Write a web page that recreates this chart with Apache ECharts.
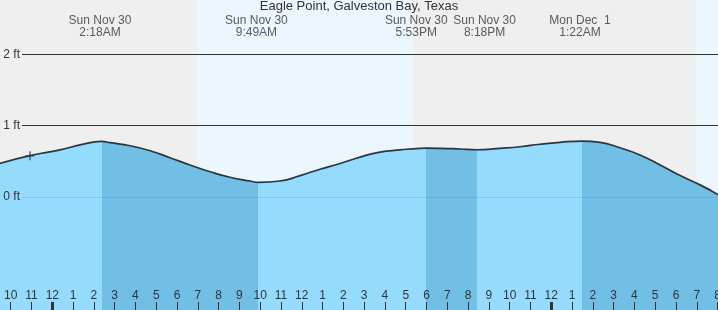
<!DOCTYPE html>
<html><head><meta charset="utf-8">
<script src="https://cdn.jsdelivr.net/npm/echarts@6/dist/echarts.min.js"></script>
<style>html,body{margin:0;padding:0;background:#efefef}#c{width:718px;height:310px}</style>
</head><body><div id="c"></div>
<script>
// ---- data (hours from midnight, Sun Nov 30; heights in ft) ----
const titleText = 'Eagle Point, Galveston Bay, Texas';
const curveHours = [-2.62, -1.16, 0.28, 1.24, 2.69, 3.65, 4.61, 5.57, 6.53, 7.49, 8.45, 9.41, 10.86, 11.82, 12.78, 13.74, 14.70, 15.66, 16.62, 17.58, 18.54, 19.51, 21.43, 22.39, 23.35, 24.31, 26.23, 27.19, 28.15, 29.12, 30.08, 31.04, 31.92];
const curveFt    = [0.47, 0.58, 0.66, 0.73, 0.762, 0.719, 0.649, 0.551, 0.449, 0.355, 0.277, 0.224, 0.224, 0.30, 0.39, 0.47, 0.56, 0.63, 0.66, 0.683, 0.683, 0.673, 0.683, 0.705, 0.74, 0.767, 0.767, 0.69, 0.59, 0.45, 0.30, 0.17, 0.03];
const eventHours = [2.3, 9.817, 17.883, 20.3, 25.367];
const eventFt    = [0.78, 0.206, 0.685, 0.663, 0.785];
const eventKind  = ['H', 'L', 'H', 'L', 'H'];
const eventDay   = ['Sun Nov 30', 'Sun Nov 30', 'Sun Nov 30', 'Sun Nov 30', 'Mon Dec  1'];
const eventClock = ['2:18AM', '9:49AM', '5:53PM', '8:18PM', '1:22AM'];
const sunrise = [6.87, 30.85];
const sunset  = [17.25, 33];
const nowHour = -1.16, nowFt = 0.58;
const ftTicks = [0, 1, 2];

// ---- build ----
const curve = curveHours.map((h, i) => [h, curveFt[i]])
  .concat(eventHours.map((h, i) => [h, eventFt[i]]))
  .sort((a, b) => a[0] - b[0]);

const darkPieces = [];
eventKind.forEach((k, i) => {
  if (k === 'H') darkPieces.push({ gte: eventHours[i], lt: (i + 1 < eventHours.length ? eventHours[i + 1] : 40), color: '#72bfe6' });
});

const labelOffsets = [[-2, 0], [-2, 0], [-10, 0], [8, 0], [-2, 0]];
const FONT = 'Liberation Sans, Arial, sans-serif';
const TXT = '#333';

const vTop = -16.9, vHeight = 356.5; // grids share vertical mapping, ft -2..3
const gBase = { outerBoundsMode: 'none', containLabel: false };
const SMOOTH = 0.5;

const chart = echarts.init(document.getElementById('c'), null, { renderer: 'canvas' });
chart.setOption({
  animation: false,
  backgroundColor: '#efefef',
  title: { text: titleText, left: 'center', top: 0, padding: 0,
    textStyle: { fontSize: 13, fontWeight: 'normal', color: TXT, fontFamily: FONT } },
  grid: [
    Object.assign({ left: -8.33, width: 749.2, top: vTop, height: vHeight }, gBase),   // 0 data
    Object.assign({ left: 22, width: 696, top: vTop, height: vHeight }, gBase),        // 1 ft gridlines
    Object.assign({ left: -10.07, width: 748.44, top: 0, height: 310 }, gBase),        // 2 hour ticks
    Object.assign({ left: 52.3, width: 499, top: 0, height: 310 }, gBase)              // 3 midnight ticks
  ],
  xAxis: [
    { gridIndex: 0, type: 'value', min: -3, max: 33, show: false },
    { gridIndex: 1, type: 'value', min: 0, max: 1, show: false },
    { gridIndex: 2, type: 'value', min: -3, max: 33, interval: 1, position: 'bottom', z: 10,
      axisLine: { show: false }, splitLine: { show: false },
      axisTick: { inside: true, length: 8, lineStyle: { color: TXT, width: 1 } },
      axisLabel: { inside: true, margin: 8, fontSize: 12, color: TXT, fontFamily: FONT,
        hideOverlap: false,
        formatter: v => { const m = ((v % 12) + 12) % 12; return String(m === 0 ? 12 : m); } } },
    { gridIndex: 3, type: 'value', min: 0, max: 24, interval: 24, position: 'bottom', z: 11,
      axisLine: { show: false }, splitLine: { show: false }, axisLabel: { show: false },
      axisTick: { inside: true, length: 8, lineStyle: { color: TXT, width: 3 } } }
  ],
  yAxis: [
    { gridIndex: 0, type: 'value', min: -2, max: 3, show: false },
    { gridIndex: 1, type: 'value', min: -2, max: 3, interval: 1, z: 10,
      axisLine: { show: false }, axisTick: { show: false }, splitLine: { show: false },
      axisLabel: { margin: 2, fontSize: 12, color: TXT, fontFamily: FONT,
        formatter: v => ftTicks.indexOf(v) >= 0 ? v + ' ft' : '' } },
    { gridIndex: 2, type: 'value', min: 0, max: 1, show: false },
    { gridIndex: 3, type: 'value', min: 0, max: 1, show: false }
  ],
  visualMap: [{
    type: 'piecewise', show: false, dimension: 0, seriesIndex: 0,
    pieces: darkPieces, outOfRange: { color: '#95dbfd' }
  }],
  series: [
    { // water fill
      type: 'line', xAxisIndex: 0, yAxisIndex: 0, data: curve, smooth: SMOOTH,
      symbol: 'none', z: 2, lineStyle: { width: 0, opacity: 0 },
      areaStyle: { opacity: 1, origin: 'start' },
      markArea: { silent: true, itemStyle: { color: '#ebf6fe' },
        data: sunrise.map((s, i) => [{ xAxis: s }, { xAxis: sunset[i] }]) }
    },
    { // curve stroke
      type: 'line', xAxisIndex: 0, yAxisIndex: 0, data: curve, smooth: SMOOTH,
      symbol: 'none', z: 4, lineStyle: { color: '#333', width: 1.7 }
    },
    { // ft gridlines
      type: 'line', xAxisIndex: 1, yAxisIndex: 1, data: [], z: 5,
      markLine: { silent: true, symbol: 'none', label: { show: false },
        data: ftTicks.map(v => ({ yAxis: v,
          lineStyle: v === 0 ? { color: 'rgba(0,70,140,0.12)', width: 1, type: 'solid' }
                             : { color: '#333', width: 1, type: 'solid' } })) }
    },
    { // current time marker
      type: 'scatter', xAxisIndex: 0, yAxisIndex: 0, z: 6,
      data: [[nowHour, nowFt]], symbolSize: 9,
      symbol: 'path://M0,4 L9,4 L9,5.4 L0,5.4 Z M3.8,0 L5.2,0 L5.2,9 L3.8,9 Z',
      itemStyle: { color: '#333' }
    },
    { // event labels
      type: 'scatter', xAxisIndex: 0, yAxisIndex: 0, z: 6, symbolSize: 0,
      data: eventHours.map((h, i) => ({ value: [h, 2.385],
        label: { offset: labelOffsets[i] } })),
      label: { show: true, position: 'inside', align: 'center', verticalAlign: 'middle',
        fontSize: 12, lineHeight: 12, color: TXT, fontFamily: FONT,
        formatter: p => eventDay[p.dataIndex] + '\n' + eventClock[p.dataIndex] }
    }
  ]
});
</script></body></html>
